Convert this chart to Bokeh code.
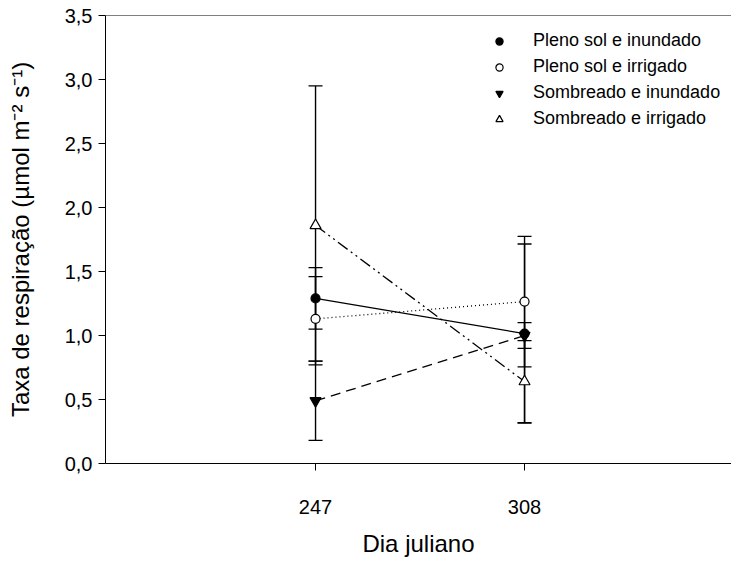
from bokeh.plotting import figure
from bokeh.models import (ColumnDataSource, Whisker, TeeHead, FixedTicker, CustomJSTickFormatter,
                          Legend, LegendItem, Span, Range1d)
from bokeh.embed import file_html
from bokeh.resources import INLINE

# ---- data ----
days = [247, 308]
x_ticks = [247, 308]
y_ticks = [0.0, 0.5, 1.0, 1.5, 2.0, 2.5, 3.0, 3.5]

series_names = ["Pleno sol e inundado", "Pleno sol e irrigado",
                "Sombreado e inundado", "Sombreado e irrigado"]
pleno_inundado = [1.29, 1.015]
pleno_inundado_err = [0.24, 0.70]
pleno_irrigado = [1.13, 1.265]
pleno_irrigado_err = [0.33, 0.51]
sombra_inundado = [0.49, 1.00]
sombra_inundado_err = [0.31, 0.10]
sombra_irrigado = [1.86, 0.64]
sombra_irrigado_err = [1.09, 0.32]

FONT = "Liberation Sans"

p = figure(width=731, height=559, output_backend="svg", toolbar_location=None,
           x_range=Range1d(185.7, 368.4), y_range=Range1d(0, 3.5),
           min_border_left=105, min_border_right=0, min_border_top=15, min_border_bottom=95)
p.grid.visible = False
p.outline_line_color = None
p.background_fill_color = "white"

series = [
    (pleno_inundado, pleno_inundado_err, "circle", "black", "solid", 9),
    (pleno_irrigado, pleno_irrigado_err, "circle", "white", "1 3", 9),
    (sombra_inundado, sombra_inundado_err, "inverted_triangle", "black", "10 6", 11),
    (sombra_irrigado, sombra_irrigado_err, "triangle", "white", "12 4 2 4 2 4", 11),
]

legend_items = []
for (vals, errs, marker, fill, dash, size), name in zip(series, series_names):
    src = ColumnDataSource(dict(x=days, y=vals,
                                lo=[v - e for v, e in zip(vals, errs)],
                                hi=[v + e for v, e in zip(vals, errs)]))
    w = Whisker(source=src, base="x", upper="hi", lower="lo", line_color="black", line_width=1.4,
                upper_head=TeeHead(size=14, line_color="black", line_width=1.3),
                lower_head=TeeHead(size=14, line_color="black", line_width=1.3))
    p.add_layout(w)
    p.line("x", "y", source=src, line_color="black", line_width=1.3, line_dash=dash)
    r = p.scatter("x", "y", source=src, marker=marker, size=size, fill_color=fill,
                  line_color="black", line_width=1.2)
    legend_items.append(LegendItem(label=name, renderers=[r]))

# top frame line
p.add_layout(Span(location=3.5, dimension="width", line_color="black", line_width=1))

legend = Legend(items=legend_items, location=(385, 334), padding=0, margin=0,
                border_line_color=None, background_fill_alpha=0,
                glyph_width=18, glyph_height=18, label_height=20, spacing=5, label_standoff=25,
                label_text_font=FONT, label_text_font_size="18px", label_text_color="black")
p.add_layout(legend)

# axes
p.xaxis.ticker = FixedTicker(ticks=x_ticks)
p.yaxis.ticker = FixedTicker(ticks=y_ticks)
p.yaxis.formatter = CustomJSTickFormatter(code="return tick.toFixed(1).replace('.', ',');")
for ax in (p.xaxis[0], p.yaxis[0]):
    ax.axis_line_color = "black"
    ax.axis_line_width = 1
    ax.major_tick_line_color = "black"
    ax.major_tick_in = 0
    ax.major_tick_out = 7
    ax.minor_tick_line_color = None
    ax.major_label_text_font = FONT
    ax.major_label_text_font_size = "20px"
    ax.major_label_text_color = "black"
    ax.axis_label_text_font = FONT
    ax.axis_label_text_font_size = "24px"
    ax.axis_label_text_font_style = "normal"
    ax.axis_label_text_color = "black"

p.xaxis.axis_label = "Dia juliano"
p.yaxis.axis_label = "Taxa de respiração (µmol m⁻² s⁻¹)"
p.xaxis.major_label_standoff = 29
p.xaxis.axis_label_standoff = 13
p.yaxis.major_label_standoff = 6
p.yaxis.axis_label_standoff = 28

open("out.html", "w").write(file_html(p, INLINE))
